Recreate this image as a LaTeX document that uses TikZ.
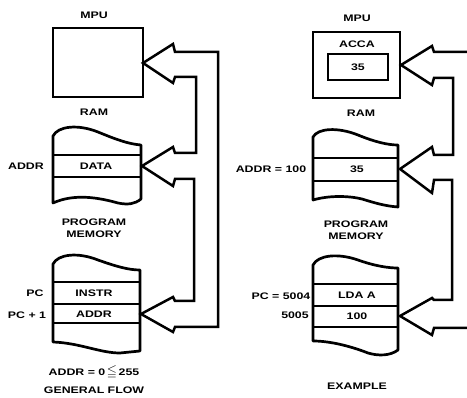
\documentclass[tikz,border=0pt]{standalone}
\usepackage{fontspec}
\usepackage{amssymb}
\setmainfont{Liberation Sans}[FakeStretch=1.3]
\tikzset{
  lab/.style={font=\fontsize{9.5}{12}\selectfont\bfseries, inner sep=0pt},
  boxline/.style={line width=2.7pt},
  band/.style={line width=2.5pt, line join=miter},
  rowline/.style={line width=2.3pt},
  memline/.style={line width=2.7pt, line join=round},
}
\begin{document}
\begin{tikzpicture}[x=1pt,y=-1pt]
\useasboundingbox (0,0) rectangle (467,398);

% ---------------- LEFT: GENERAL FLOW ----------------
\node[lab] (mpuLt) at (94,15) {MPU};
\node[boxline, draw, minimum width=90pt, minimum height=69pt, inner sep=0pt] (mpuL) at (98,62.5) {};

\node[lab] (ramLt) at (94,112) {RAM};
\draw[memline] (53,136) .. controls (58,126) and (78,124) .. (98,132)
  .. controls (115,139) and (128,144) .. (141,145) -- (141,199)
  .. controls (135,204) and (128,205) .. (118,203)
  .. controls (100,198) and (75,193) .. (53,203) -- cycle;
\draw[rowline] (53,155) -- (141,155);
\draw[rowline] (53,177) -- (141,177);
\node[lab] (dataL) at (96,166) {DATA};
\node[lab] (addrL) at (26,166) {ADDR};

\node[lab, align=center] (pmL) at (94,228) {PROGRAM\\MEMORY};
\draw[memline] (53,264) .. controls (58,254) and (78,252) .. (98,260)
  .. controls (115,266) and (128,270) .. (140,270) -- (140,351)
  -- (120,353) .. controls (100,353) and (80,343) .. (53,342) -- cycle;
\draw[rowline] (53,282) -- (140,282);
\draw[rowline] (53,304) -- (140,304);
\draw[rowline] (53,323) -- (140,323);
\node[lab] (instrL) at (94,293) {INSTR};
\node[lab] (addrRowL) at (94,314) {ADDR};
\node[lab] (pcL) at (35,293) {PC};
\node[lab] (pc1L) at (27,315) {PC + 1};

\node[lab] (rangeL) at (94,372) {ADDR = 0\,{\fontsize{13}{13}\selectfont$\leqq$}\,255};
\node[lab] (genL) at (94,390) {GENERAL FLOW};

% left band arrows
\coordinate (tipMpuL) at (143,63);
\coordinate (tipRamL) at (142,166);
\coordinate (tipPmL) at (141,314);
\draw[band] (218,327) -- (218,52) -- (175,52) -- (173,44) -- (tipMpuL)
  -- (173,83) -- (175,77) -- (196,77) -- (196,153) -- (175,153) -- (173,147)
  -- (tipRamL) -- (173,186) -- (175,179) -- (194,179) -- (194,301)
  -- (175,301) -- (173,297) -- (tipPmL) -- (173,332) -- (175,327) -- cycle;

% ---------------- RIGHT: EXAMPLE ----------------
\node[lab] (mpuRt) at (357,18) {MPU};
\node[boxline, draw, minimum width=87pt, minimum height=66pt, inner sep=0pt] (mpuR) at (356.5,65) {};
\node[lab] (acca) at (357,44) {ACCA};
\node[boxline, draw, minimum width=60pt, minimum height=26pt, inner sep=0pt] (accaBox) at (358,67) {};
\node[lab] (accaVal) at (358,67) {35};

\node[lab] (ramRt) at (361,113) {RAM};
\draw[memline] (313,137) .. controls (318,128) and (338,127) .. (358,135)
  .. controls (375,142) and (388,145) .. (398,145) -- (398,207)
  .. controls (385,206) and (375,203) .. (362,199)
  .. controls (350,196) and (330,195) .. (313,200) -- cycle;
\draw[rowline] (313,158) -- (398,158);
\draw[rowline] (313,181) -- (398,181);
\node[lab] (ramVal) at (357,169) {35};
\node[lab] (addrR) at (271,169) {ADDR = 100};

\node[lab, align=center] (pmR) at (356,230) {PROGRAM\\MEMORY};
\draw[memline] (313,265) .. controls (318,255) and (338,253) .. (358,260)
  .. controls (375,266) and (388,268) .. (398,268) -- (398,350)
  .. controls (390,356) and (378,356) .. (368,353)
  .. controls (350,346) and (330,341) .. (313,341) -- cycle;
\draw[rowline] (313,284) -- (398,284);
\draw[rowline] (313,306) -- (398,306);
\draw[rowline] (313,327) -- (398,327);
\node[lab] (lda) at (357,295) {LDA A};
\node[lab] (hundred) at (357,316) {100};
\node[lab] (pcR) at (281,296) {PC = 5004};
\node[lab] (pc5R) at (295,315) {5005};

\node[lab] (exR) at (357,386) {EXAMPLE};

% right band arrows
\coordinate (tipMpuR) at (401,65);
\coordinate (tipRamR) at (400,169);
\coordinate (tipPmR) at (400,316);
\draw[band] (467,52) -- (434,52) -- (432,46) -- (tipMpuR) -- (432,85) -- (434,78)
  -- (453,78) -- (453,155) -- (434,155) -- (432,147) -- (tipRamR)
  -- (432,193) -- (434,180) -- (452,180) -- (452,300) -- (434,300)
  -- (432,298) -- (tipPmR) -- (432,335) -- (434,328) -- (467,328);
\end{tikzpicture}
\end{document}
